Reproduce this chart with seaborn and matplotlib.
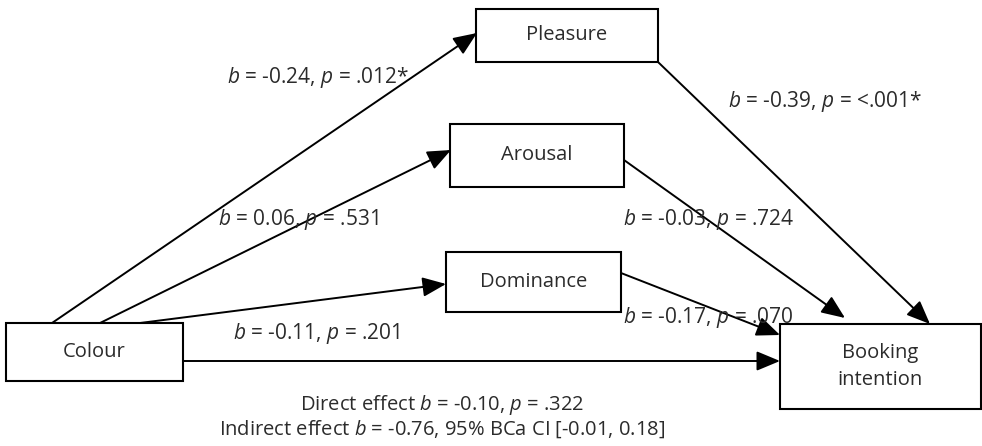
import matplotlib.pyplot as plt
from matplotlib.patches import Rectangle
import seaborn as sns

# path model: labels and coefficients
nodes = ["Colour", "Pleasure", "Arousal", "Dominance", "Booking\nintention"]
a_paths = [("-0.24", ".012*"), ("0.06", ".531"), ("-0.11", ".201")]
b_paths = [("-0.39", "<.001*"), ("-0.03", ".724"), ("-0.17", ".070")]
direct_b, direct_p = "-0.10", ".322"
indirect_b, indirect_ci = "-0.76", "[-0.01, 0.18]"

# layout (pixel coordinates, y down)
boxes = {
    "Colour": (6, 323, 177, 58),
    "Pleasure": (476, 9, 182, 53),
    "Arousal": (450, 124, 174, 63),
    "Dominance": (446, 252, 175, 60),
    "Booking\nintention": (780, 324, 201, 85),
}
a_arrows = [((52, 323), (477, 33)), ((100, 323), (451, 150)), ((140, 323), (446, 284))]
b_arrows = [((658, 62), (930, 324)), ((624, 160), (845, 318)), ((621, 273), (780, 335))]
direct_arrow = ((183, 361), (780, 361))
a_text = [(227, 78), (218, 220), (233, 333)]
b_text = [(728, 102), (623, 220), (623, 318)]

sns.set_theme(style="white")
plt.rcParams["font.family"] = ["Open Sans", "DejaVu Sans"]
plt.rcParams["mathtext.fontset"] = "custom"
plt.rcParams["mathtext.rm"] = "Open Sans"
plt.rcParams["mathtext.it"] = "Open Sans:italic"

fig = plt.figure(figsize=(9.82, 4.46), dpi=100)
ax = fig.add_axes([0, 0, 1, 1])
ax.set_xlim(0, 982)
ax.set_ylim(446, 0)
ax.axis("off")

txt_color = "#2b2b2b"
fs = 14.5

for name in nodes:
    x, y, w, h = boxes[name]
    ax.add_patch(Rectangle((x, y), w, h, fill=False, ec="black", lw=1.5, zorder=3))
    ax.text(x + w / 2, y + h / 2, name, ha="center", va="center",
            fontsize=fs, color=txt_color, linespacing=1.45)

def arrow(start, end):
    ax.annotate("", xy=end, xytext=start,
                arrowprops=dict(arrowstyle="-|>,head_length=1.2,head_width=0.5",
                                color="black", lw=1.4, shrinkA=0, shrinkB=0))

for s, e in a_arrows + b_arrows + [direct_arrow]:
    arrow(s, e)

for (b, p), (x, y) in zip(a_paths + b_paths, a_text + b_text):
    ax.text(x, y, f"$b$ = {b}, $p$ = {p}", ha="left", va="center",
            fontsize=fs + 0.5, color=txt_color)

ax.text(442, 405, f"Direct effect $b$ = {direct_b}, $p$ = {direct_p}",
        ha="center", va="center", fontsize=fs, color=txt_color)
ax.text(442, 429, f"Indirect effect $b$ = {indirect_b}, 95% BCa CI {indirect_ci}",
        ha="center", va="center", fontsize=fs, color=txt_color)

fig.savefig("out.png", dpi=100)
